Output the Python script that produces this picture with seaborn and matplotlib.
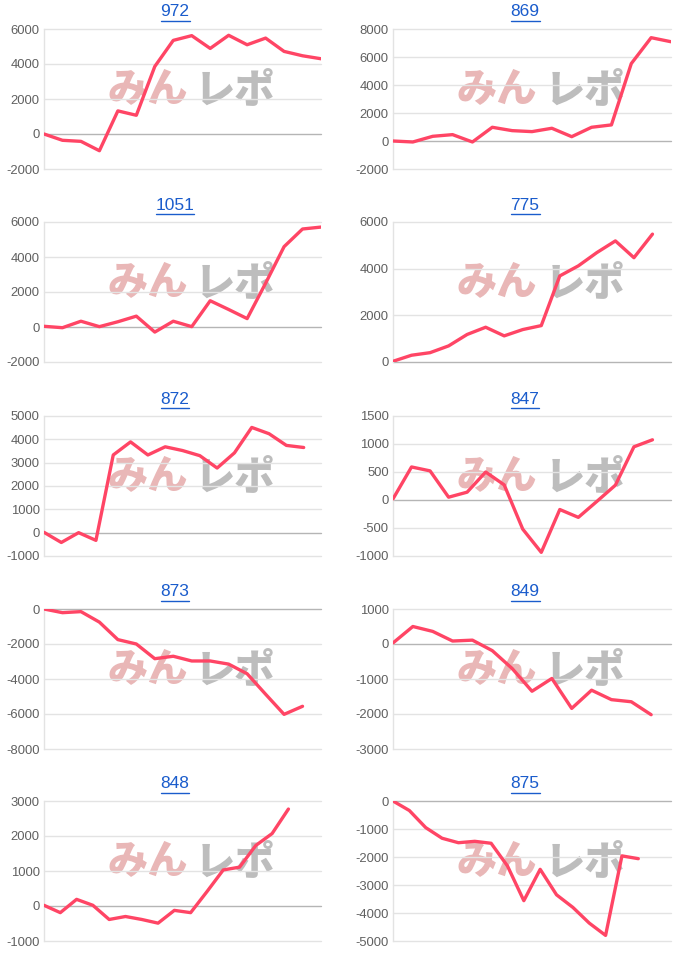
import matplotlib
matplotlib.use("Agg")
import matplotlib.pyplot as plt
from matplotlib.lines import Line2D
import seaborn as sns
import numpy as np

sns.set_style("white")
plt.rcParams['font.family'] = ['Liberation Sans', 'DejaVu Sans']

# ---- data ----
titles = ["972", "869", "1051", "775", "872", "847", "873", "849", "848", "875"]

s972 = [0, -360, -420, -955, 1320, 1070, 3860, 5350, 5620, 4890, 5640, 5100, 5480, 4720, 4470, 4300]
s869 = [0, -70, 335, 455, -70, 980, 740, 670, 910, 310, 980, 1150, 5530, 7380, 7090]
s1051 = [40, -40, 330, 20, 300, 620, -290, 330, 20, 1500, 1000, 480, 2500, 4590, 5600, 5710]
s775 = [30, 290, 400, 690, 1180, 1490, 1120, 1390, 1560, 3690, 4120, 4690, 5190, 4470, 5480]
s872 = [15, -420, 0, -330, 3330, 3890, 3330, 3680, 3520, 3300, 2770, 3420, 4510, 4240, 3740, 3650]
s847 = [20, 590, 520, 50, 140, 500, 270, -520, -935, -170, -310, -25, 265, 950, 1075]
s873 = [0, -210, -150, -750, -1750, -2000, -2840, -2700, -2970, -2970, -3150, -3700, -4870, -6020, -5560]
s849 = [30, 500, 360, 85, 110, -190, -700, -1350, -985, -1840, -1320, -1590, -1650, -2020]
s848 = [20, -190, 190, 20, -385, -300, -385, -490, -125, -190, 410, 1030, 1110, 1730, 2070, 2770]
s875 = [0, -340, -950, -1330, -1490, -1440, -1510, -2320, -3560, -2440, -3350, -3800, -4360, -4800, -1960, -2060]

series = [s972, s869, s1051, s775, s872, s847, s873, s849, s848, s875]

# number of date categories on each chart's x axis
n_categories = [16, 15, 16, 16, 17, 16, 16, 15, 18, 18]

# y-axis ranges and steps
y_min = [-2000, -2000, -2000, 0, -1000, -1000, -8000, -3000, -1000, -5000]
y_max = [6000, 8000, 6000, 6000, 5000, 1500, 0, 1000, 3000, 0]
y_step = [2000, 2000, 2000, 2000, 1000, 500, 2000, 1000, 1000, 1000]

# ---- layout ----
W, H = 700, 965
fig = plt.figure(figsize=(W / 100, H / 100), dpi=100)

col_left = [44, 393]
col_right = [321, 671]
row_top = [29, 222, 416, 609, 801]
plot_h = 140
title_cx = [175, 525]

line_color = "#ff4565"
link_color = "#1a5ccc"

title_texts = []
for i in range(10):
    r, c = divmod(i, 2)
    left = col_left[c]
    right = col_right[c]
    top = row_top[r]
    ax = fig.add_axes([left / W, 1 - (top + plot_h) / H, (right - left) / W, plot_h / H])

    y = series[i]
    x = np.arange(len(y))

    # watermark
    ax.text(0.375, 0.565, "みん", transform=ax.transAxes, ha="center", va="center",
            fontsize=29, fontweight="black", color="#e9b7b7",
            family=["Noto Sans CJK JP", "DejaVu Sans"], zorder=1)
    ax.text(0.69, 0.565, "レポ", transform=ax.transAxes, ha="center", va="center",
            fontsize=29, fontweight="black", color="#bdbdbd",
            family=["Noto Sans CJK JP", "DejaVu Sans"], zorder=1)

    sns.lineplot(x=x, y=y, ax=ax, color=line_color, linewidth=2.4, zorder=5)

    ax.set_xlim(0, n_categories[i] - 1)
    ax.set_ylim(y_min[i], y_max[i])
    ticks = np.arange(y_min[i], y_max[i] + y_step[i] / 2, y_step[i])
    ax.set_yticks(ticks)
    ax.set_yticklabels([f"{int(t)}" for t in ticks])
    ax.set_xticks([])
    ax.set_xlabel("")
    ax.set_ylabel("")

    for t in ticks:
        col = "#b5b5b5" if t == 0 else "#e3e3e3"
        ax.axhline(t, color=col, lw=1.0, zorder=2, clip_on=False)

    for sp in ["top", "right", "bottom"]:
        ax.spines[sp].set_visible(False)
    ax.spines["left"].set_color("#e3e3e3")
    ax.spines["left"].set_linewidth(1.0)
    ax.tick_params(axis="y", length=0, pad=3, labelsize=9.4, labelcolor="#606060")
    ax.patch.set_alpha(0)

    # title (link-style, underlined)
    ty = row_top[r] - 17
    t = fig.text(title_cx[c] / W, 1 - ty / H, titles[i], ha="center", va="center",
                 fontsize=12.5, color=link_color)
    title_texts.append((t, ty))

fig.canvas.draw()
renderer = fig.canvas.get_renderer()
for t, ty in title_texts:
    bb = t.get_window_extent(renderer)
    uy = 1 - (ty + 9) / H
    fig.add_artist(Line2D([bb.x0 / W, bb.x1 / W], [uy, uy], color=link_color, lw=1.0,
                          transform=fig.transFigure))

fig.savefig("out.png", dpi=100)
